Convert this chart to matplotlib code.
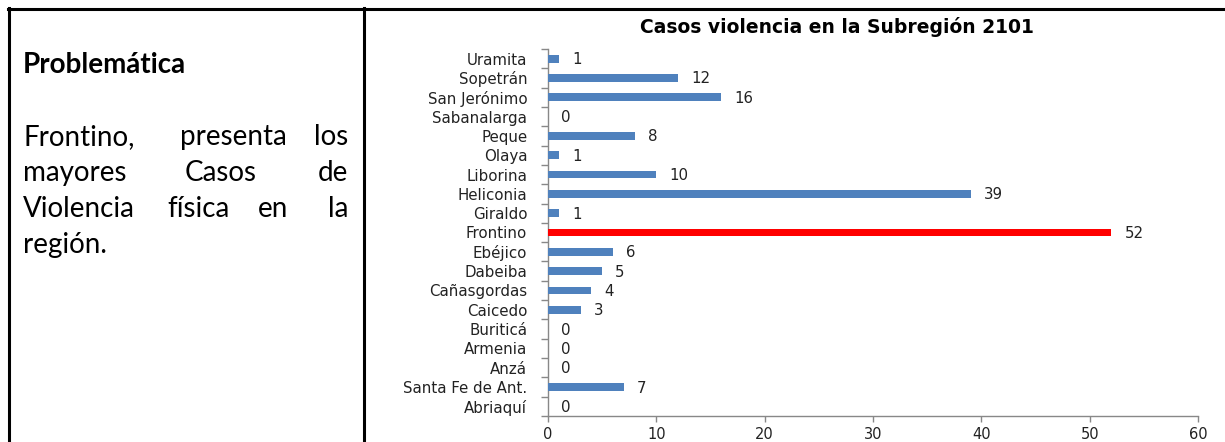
import matplotlib
matplotlib.use("Agg")
import matplotlib.pyplot as plt
from matplotlib.lines import Line2D
from matplotlib.ticker import FixedLocator, NullFormatter

# ---- data ----
municipios = ["Abriaquí", "Santa Fe de Ant.", "Anzá", "Armenia", "Buriticá",
              "Caicedo", "Cañasgordas", "Dabeiba", "Ebéjico", "Frontino",
              "Giraldo", "Heliconia", "Liborina", "Olaya", "Peque",
              "Sabanalarga", "San Jerónimo", "Sopetrán", "Uramita"]
casos = [0, 7, 0, 0, 0, 3, 4, 5, 6, 52, 1, 39, 10, 1, 8, 0, 16, 12, 1]
destacado = "Frontino"
xticks = [0, 10, 20, 30, 40, 50, 60]
titulo = "Casos violencia en la Subregión 2101"

W, H = 1225, 442
fig = plt.figure(figsize=(W / 100, H / 100), dpi=100)
fig.patch.set_facecolor("white")

def fx(px):
    return px / W

def fy(py):
    return 1 - py / H

# ---- table borders ----
for (x0, y0, x1, y1) in [(8, 8.5, 1225, 8.5), (8.5, 8, 8.5, 442), (363.5, 8, 363.5, 442)]:
    fig.add_artist(Line2D([fx(x0), fx(x1)], [fy(y0), fy(y1)], color="black", lw=2.2,
                          transform=fig.transFigure))

# ---- left text ----
tfont = dict(family="Lato", color="black")
fig.text(fx(23), fy(73), "Problemática", fontsize=20, fontweight="bold", va="baseline", ha="left", **tfont)
lines = [
    [("Frontino,", 23, "left"), ("presenta", 180, "left"), ("los", 348, "right")],
    [("mayores", 23, "left"), ("Casos", 185, "left"), ("de", 348, "right")],
    [("Violencia", 23, "left"), ("física", 167, "left"), ("en", 258, "left"), ("la", 348, "right")],
    [("región.", 23, "left")],
]
ys = [145, 181, 217, 253]
for line, y in zip(lines, ys):
    for word, x, ha in line:
        fig.text(fx(x), fy(y), word, fontsize=20, va="baseline", ha=ha, **tfont)

# ---- chart ----
ax = fig.add_axes([fx(548), fy(416), fx(1198) - fx(548), fy(49) - fy(416)])
colors = ["#FF0000" if m == destacado else "#4F81BD" for m in municipios]
ypos = list(range(len(municipios)))
ax.barh(ypos, casos, height=0.4, color=colors, zorder=3)
ax.set_xlim(0, 60)
ax.set_ylim(-0.5, len(municipios) - 0.5)
ax.set_yticks(ypos)
ax.set_yticklabels(municipios, fontsize=10.8, color="#222222")
ax.tick_params(axis="y", which="major", length=0, pad=15)
ax.yaxis.set_minor_locator(FixedLocator([i - 0.5 for i in range(len(municipios) + 1)]))
ax.yaxis.set_minor_formatter(NullFormatter())
ax.tick_params(axis="y", which="minor", length=5, color="#888888", width=1)
ax.set_xticks(xticks)
ax.set_xticklabels([str(v) for v in xticks], fontsize=10.5, color="#222222")
ax.tick_params(axis="x", length=4, color="#888888", width=1, pad=4)
for s in ["top", "right"]:
    ax.spines[s].set_visible(False)
for s in ["left", "bottom"]:
    ax.spines[s].set_color("#888888")
    ax.spines[s].set_linewidth(1)

for y, v in zip(ypos, casos):
    ax.annotate(str(v), xy=(v, y), xytext=(13, -1), textcoords="offset pixels",
                va="center", ha="left", fontsize=10.8, color="#222222")

fig.text(fx(837), fy(27), titulo, fontsize=13.5, fontweight="bold", ha="center", va="center",
         color="black")

fig.savefig("out.png", dpi=100, facecolor="white")
